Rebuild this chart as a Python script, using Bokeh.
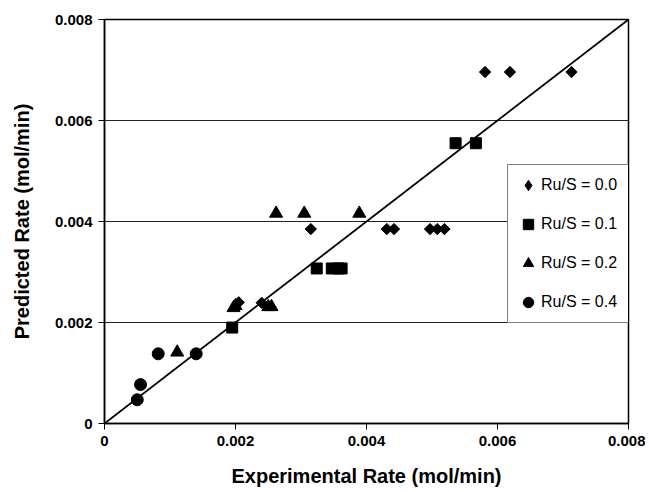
import numpy as np
from bokeh.plotting import figure
from bokeh.models import Range1d, FixedTicker, Legend, LegendItem
from bokeh.embed import file_html
from bokeh.resources import INLINE

# ---- data (mol/min) ----
ru00_x = [0.00581, 0.00619, 0.00713, 0.00315, 0.00431, 0.00442, 0.00497, 0.00508, 0.00519, 0.00205, 0.00240]
ru00_y = [0.00696, 0.00696, 0.00696, 0.00385, 0.00385, 0.00385, 0.00385, 0.00385, 0.00385, 0.00240, 0.00239]

ru01_x = [0.00536, 0.00567, 0.00324, 0.00347, 0.00357, 0.00362, 0.00195]
ru01_y = [0.00555, 0.00555, 0.00307, 0.00307, 0.00307, 0.00307, 0.00190]

ru02_x = [0.00262, 0.00305, 0.00389, 0.00197, 0.00200, 0.00250, 0.00255, 0.00111]
ru02_y = [0.00416, 0.00416, 0.00416, 0.00229, 0.00233, 0.00231, 0.00231, 0.00141]

ru04_x = [0.00082, 0.00140, 0.00055, 0.00050]
ru04_y = [0.00138, 0.00138, 0.00077, 0.00047]

parity_x = [0.0, 0.008]
parity_y = [0.0, 0.008]

tick_values = [0.0, 0.002, 0.004, 0.006, 0.008]
tick_labels = ["0", "0.002", "0.004", "0.006", "0.008"]
grid_values = [0.002, 0.004, 0.006]

series_labels = ["Ru/S = 0.0", "Ru/S = 0.1", "Ru/S = 0.2", "Ru/S = 0.4"]

FONT = "Liberation Sans"

p = figure(frame_width=524, frame_height=404, output_backend="svg", toolbar_location=None,
           x_range=Range1d(0, 0.008), y_range=Range1d(0, 0.008),
           min_border_left=104, min_border_right=17, min_border_top=19, min_border_bottom=66)

p.background_fill_color = "white"
p.border_fill_color = "white"
p.outline_line_color = "black"
p.outline_line_width = 1.5

overrides = dict(zip(tick_values, tick_labels))
for ax in (p.xaxis[0], p.yaxis[0]):
    ax.ticker = FixedTicker(ticks=tick_values)
    ax.major_label_overrides = overrides
    ax.minor_tick_line_color = None
    ax.major_tick_in = 0
    ax.major_tick_out = 6
    ax.axis_line_color = "black"
    ax.axis_line_width = 1.5
    ax.major_tick_line_color = "black"
    ax.major_label_text_font = FONT
    ax.major_label_text_font_style = "bold"
    ax.major_label_text_font_size = "15px"
    ax.major_label_text_color = "black"
    ax.axis_label_text_font = FONT
    ax.axis_label_text_font_style = "bold"
    ax.axis_label_text_font_size = "20px"
    ax.axis_label_text_color = "black"

p.xaxis.axis_label = "Experimental Rate (mol/min)"
p.yaxis.axis_label = "Predicted Rate (mol/min)"
p.xaxis.major_label_standoff = 6
p.yaxis.major_label_standoff = 6
p.xaxis.axis_label_standoff = 16
p.yaxis.axis_label_standoff = 19

p.xgrid.visible = False
p.ygrid.ticker = FixedTicker(ticks=grid_values)
p.ygrid.grid_line_color = "#222222"
p.ygrid.grid_line_width = 1.2

p.line(parity_x, parity_y, line_color="black", line_width=1.8)

# legend key for the diamond series (covered by the rotated squares below)
r0_key = p.scatter(ru00_x, ru00_y, marker="diamond", size=8,
                   fill_color="black", line_color="black")
r0 = p.scatter(ru00_x, ru00_y, marker="square", angle=np.pi / 4, size=8,
               fill_color="black", line_color="black")
r1 = p.scatter(ru01_x, ru01_y, marker="square", size=11,
               fill_color="black", line_color="black")
r2 = p.scatter(ru02_x, ru02_y, marker="triangle", size=13,
               fill_color="black", line_color="black")
r3 = p.scatter(ru04_x, ru04_y, marker="circle", size=12,
               fill_color="black", line_color="black")

legend = Legend(items=[LegendItem(label=lab, renderers=[r]) for lab, r in zip(series_labels, [r0_key, r1, r2, r3])],
                location=(403, 100))
legend.label_text_font = FONT
legend.label_text_font_size = "16px"
legend.label_text_color = "black"
legend.border_line_color = "black"
legend.border_line_width = 1
legend.background_fill_alpha = 1
legend.padding = 7
legend.margin = 0
legend.glyph_width = 26
legend.glyph_height = 26
legend.label_height = 26
legend.label_standoff = 0
legend.label_width = 81
legend.spacing = 13
p.add_layout(legend, "center")

with open("out.html", "w") as f:
    f.write(file_html(p, INLINE))
